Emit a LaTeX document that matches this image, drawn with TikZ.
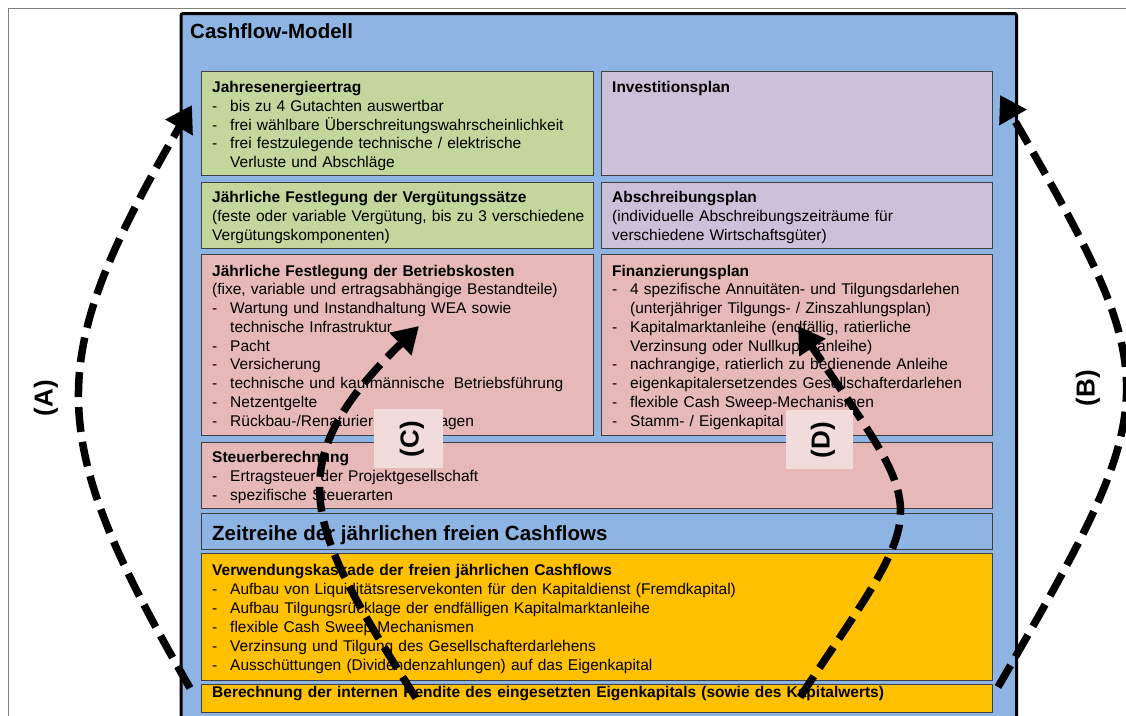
\documentclass[tikz,border=0pt]{standalone}
\usepackage{fontspec}
\setmainfont{Liberation Sans}
\usetikzlibrary{arrows.meta}
\definecolor{cmblue}{HTML}{8DB4E2}
\definecolor{cmgreen}{HTML}{C3D69B}
\definecolor{cmpurple}{HTML}{CCC1DA}
\definecolor{cmpink}{HTML}{E6B9B8}
\definecolor{cmorange}{HTML}{FFC000}
\definecolor{cmlabel}{HTML}{F2DCDB}
\definecolor{cmframe}{HTML}{7F7F7F}
\newcommand\mybul{\makebox[18pt][l]{-}}
\newcommand\myind{\hspace*{18pt}}
\begin{document}
\begin{tikzpicture}[x=1pt,y=-1pt,
  panel/.style={draw=black!75, line width=0.9pt, anchor=north west, inner sep=0pt},
  txt/.style={anchor=base west, inner sep=0pt, align=left, text width=770pt,
    font=\fontsize{15.5pt}{18.75pt}\selectfont},
  bigtitle/.style={anchor=base west, inner sep=0pt, font=\bfseries\fontsize{20.5pt}{24pt}\selectfont},
  bigarrow/.style={line width=7.5pt, dash pattern=on 25pt off 10pt, -{Triangle[length=26pt,width=30pt]}},
  lblbox/.style={fill=cmlabel, inner sep=0pt},
  lbltxt/.style={inner sep=0pt, rotate=90, font=\bfseries\fontsize{26pt}{28pt}\selectfont}]
\useasboundingbox (0,0) rectangle (1126,715);
\clip (0,0) rectangle (1126,715);
\draw[cmframe, line width=1pt] (8,8) rectangle (1140,730);
% main box
\node[draw=black, line width=3pt, fill=cmblue, anchor=north west, inner sep=0pt,
  minimum width=835.5pt, minimum height=740pt, rounded corners=2pt] (model) at (179.5,12) {};
\node[bigtitle] (title) at (190,38) {Cashflow-Modell};
% panels
\node[panel, fill=cmgreen, minimum width=392pt, minimum height=104pt] (jahr) at (201,71) {};
\node[panel, fill=cmpurple, minimum width=391pt, minimum height=104pt] (invest) at (601,71) {};
\node[panel, fill=cmgreen, minimum width=392pt, minimum height=66pt] (verg) at (201,182) {};
\node[panel, fill=cmpurple, minimum width=391pt, minimum height=66pt] (abschr) at (601,182) {};
\node[panel, fill=cmpink, minimum width=392pt, minimum height=181pt] (betr) at (201,254) {};
\node[panel, fill=cmpink, minimum width=391pt, minimum height=181pt] (finanz) at (601,254) {};
\node[panel, fill=cmpink, minimum width=791pt, minimum height=66pt] (steuer) at (201,442) {};
\node[panel, fill=cmblue, minimum width=791pt, minimum height=36pt] (zeit) at (201,513) {};
\node[panel, fill=cmorange, minimum width=791pt, minimum height=127pt] (verw) at (201,553) {};
\node[panel, fill=cmorange, minimum width=791pt, minimum height=28pt] (ber) at (201,684) {};
% texts
\node[txt] (jahrT) at (212,92.5) {\textbf{Jahresenergieertrag}\\
\mybul bis zu 4 Gutachten auswertbar\\
\mybul frei wählbare Überschreitungswahrscheinlichkeit\\
\mybul frei festzulegende technische / elektrische\\
\myind Verluste und Abschläge};
\node[txt] (investT) at (612,92.5) {\textbf{Investitionsplan}};
\node[txt] (vergT) at (212,202.5) {\textbf{Jährliche Festlegung der Vergütungssätze}\\
(feste oder variable Vergütung, bis zu 3 verschiedene\\
Vergütungskomponenten)};
\node[txt] (abschrT) at (612,202.5) {\textbf{Abschreibungsplan}\\
(individuelle Abschreibungszeiträume für\\
verschiedene Wirtschaftsgüter)};
\node[txt] (betrT) at (212,276) {\textbf{Jährliche Festlegung der Betriebskosten}\\
(fixe, variable und ertragsabhängige Bestandteile)\\
\mybul Wartung und Instandhaltung WEA sowie\\
\myind technische Infrastruktur\\
\mybul Pacht\\
\mybul Versicherung\\
\mybul technische und kaufmännische\hspace{4pt} Betriebsführung\\
\mybul Netzentgelte\\
\mybul Rückbau-/Renaturierungsrücklagen};
\node[txt] (finanzT) at (612,276) {\textbf{Finanzierungsplan}\\
\mybul 4 spezifische Annuitäten- und Tilgungsdarlehen\\
\myind (unterjähriger Tilgungs- / Zinszahlungsplan)\\
\mybul Kapitalmarktanleihe (endfällig, ratierliche\\
\myind Verzinsung oder Nullkuponanleihe)\\
\mybul nachrangige, ratierlich zu bedienende Anleihe\\
\mybul eigenkapitalersetzendes Gesellschafterdarlehen\\
\mybul flexible Cash Sweep-Mechanismen\\
\mybul Stamm- / Eigenkapital};
\node[txt] (steuerT) at (212,462.5) {\textbf{Steuerberechnung}\\
\mybul Ertragsteuer der Projektgesellschaft\\
\mybul spezifische Steuerarten};
\node[bigtitle] (zeitT) at (212,540) {Zeitreihe der jährlichen freien Cashflows};
\node[txt, font=\fontsize{15.5pt}{19pt}\selectfont] (verwT) at (212,575) {\textbf{Verwendungskaskade der freien jährlichen Cashflows}\\
\mybul Aufbau von Liquiditätsreservekonten für den Kapitaldienst (Fremdkapital)\\
\mybul Aufbau Tilgungsrücklage der endfälligen Kapitalmarktanleihe\\
\mybul flexible Cash Sweep-Mechanismen\\
\mybul Verzinsung und Tilgung des Gesellschafterdarlehens\\
\mybul Ausschüttungen (Dividendenzahlungen) auf das Eigenkapital};
\node[txt] (berT) at (212,697) {\textbf{Berechnung der internen Rendite des eingesetzten Eigenkapitals (sowie des Kapitalwerts)}};
% arrow coordinates
\coordinate (aS) at (190,688); \coordinate (aP) at (42,432); \coordinate (aQ) at (44,361); \coordinate (aE) at (192,105);
\coordinate (bS) at (998,687); \coordinate (bP) at (1166,396); \coordinate (bQ) at (1168,386); \coordinate (bE) at (1000,95);
\coordinate (cS) at (416,698); \coordinate (cP) at (307,527); \coordinate (cQ) at (275,466); \coordinate (cE) at (419,326);
\coordinate (dS) at (800,697); \coordinate (dP) at (932,498); \coordinate (dQ) at (932,525); \coordinate (dE) at (798,326);
\draw[bigarrow] (aS) .. controls (aP) and (aQ) .. (aE);
\draw[bigarrow] (bS) .. controls (bP) and (bQ) .. (bE);
\draw[bigarrow] (cS) .. controls (cP) and (cQ) .. (cE);
\draw[bigarrow] (dS) .. controls (dP) and (dQ) .. (dE);
% labels
\node[lbltxt] (labA) at (46,398) {(A)};
\node[lbltxt] (labB) at (1088,388) {(B)};
\node[lblbox, minimum width=69pt, minimum height=59pt] (boxC) at (408.5,438.5) {};
\node[lblbox, minimum width=67pt, minimum height=59pt] (boxD) at (819.5,439.5) {};
\node[lbltxt] (labC) at (412,439) {(C)};
\node[lbltxt] (labD) at (823,440) {(D)};
\end{tikzpicture}
\end{document}
